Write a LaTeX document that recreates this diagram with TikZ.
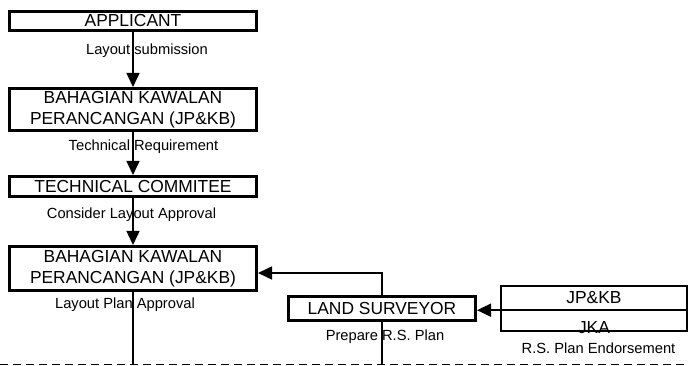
\documentclass[tikz,border=0pt]{standalone}
\usepackage{fontspec}
\setmainfont{Liberation Sans}
\usetikzlibrary{arrows.meta}

\begin{document}
\begin{tikzpicture}[x=1pt,y=-1pt,
		box/.style={draw,line width=3pt,minimum width=247pt,inner sep=0pt,align=center,font=\fontsize{17.4}{20.6}\selectfont},
		lbl/.style={inner sep=0pt,font=\fontsize{14.7}{17}\selectfont},
		arr/.style={line width=1.5pt,-{Triangle[length=14pt,width=13pt]}},
		link/.style={line width=1.5pt}]
			\useasboundingbox (0,0) rectangle (689,366);
%			left column
			\node[box,minimum height=19pt] (applicant) at (133,21) {APPLICANT};
			\node[box,minimum height=42pt] (bkp1) at (133,109.5) {BAHAGIAN KAWALAN\\PERANCANGAN (JP\&KB)};
			\node[box,minimum height=20pt] (tc) at (133,186.5) {TECHNICAL COMMITEE};
			\node[box,minimum height=44pt] (bkp2) at (133,268.5) {BAHAGIAN KAWALAN\\PERANCANGAN (JP\&KB)};
			\node[lbl] (submit) at (147,51) {Layout submission};
			\node[lbl] (techreq) at (143.5,147) {Technical Requirement};
			\node[lbl] (consider) at (131.5,215) {Consider Layout Approval};
			\node[lbl] (planok) at (125,305) {Layout Plan Approval};
%			right side
			\node[box,minimum width=187pt,minimum height=24pt] (ls) at (382,308.5) {LAND SURVEYOR};
			\node[lbl] (prepare) at (385,337) {Prepare R.S. Plan};
			\node[minimum width=186pt,minimum height=24pt,inner sep=0pt,font=\fontsize{17.4}{20.6}\selectfont] (jpkb) at (594,298) {JP\&KB};
			\node[inner sep=0pt,font=\fontsize{17.4}{20.6}\selectfont] (jka) at (594,327.5) {JKA};
			\node[lbl] (endorse) at (598.5,348) {R.S. Plan Endorsement};
			\draw[line width=2.4pt] (jpkb.north west) rectangle ([yshift=-21pt]jpkb.south east);
			\draw[line width=2pt] (jpkb.south west) -- (jpkb.south east);
%			connectors
			\coordinate (back) at (382,273);
			\coordinate (cutw) at (0,365);
			\coordinate (cute) at (689,365);
			\draw[arr] (applicant) -- (bkp1);
			\draw[arr] (bkp1) -- (tc);
			\draw[arr] (tc) -- (bkp2);
			\draw[arr] (jpkb.south west) -- (jpkb.south west -| ls.east);
			\draw[arr] (ls.north) -- (back) -- (back -| bkp2.east);
			\draw[link] (bkp2.south) -- (bkp2.south |- cutw);
			\draw[link] (ls.south) -- (ls.south |- cutw);
			\draw[line width=1pt,dash pattern=on 8pt off 5pt] (cutw) -- (cute);
		\end{tikzpicture}
\end{document}
